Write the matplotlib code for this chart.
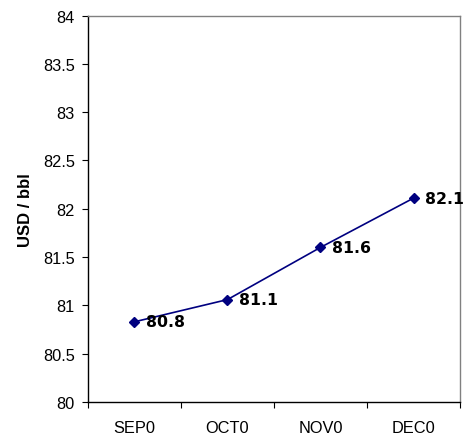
import matplotlib
matplotlib.use('Agg')
import matplotlib.pyplot as plt

months = ['SEP0', 'OCT0', 'NOV0', 'DEC0']
prices = [80.83, 81.06, 81.6, 82.11]
labels = ['80.8', '81.1', '81.6', '82.1']
y_ticks = [80, 80.5, 81, 81.5, 82, 82.5, 83, 83.5, 84]

fig = plt.figure(figsize=(4.72, 4.35), dpi=100)
ax = fig.add_axes([0.1864, 0.0736, 0.7882, 0.8884])

x = list(range(len(months)))
ax.plot(x, prices, color='#000080', lw=1.2, marker='D', ms=5, mfc='#000080', mec='#000080')

for xi, yi, lab in zip(x, prices, labels):
    ax.annotate(lab, (xi, yi), xytext=(8, 0), textcoords='offset points',
                ha='left', va='center', fontsize=11.3, fontweight='bold',
                family='DejaVu Sans', color='black')

ax.set_xlim(-0.5, len(months) - 0.5)
ax.set_ylim(80, 84)
ax.set_yticks(y_ticks)
ax.set_yticklabels([f'{t:g}' for t in y_ticks], family='Liberation Sans', fontsize=11.8)

# category ticks sit between the categories, labels at centres
ax.set_xticks([i - 0.5 for i in range(len(months) + 1)])
ax.set_xticklabels([])
ax.set_xticks(x, minor=True)
ax.set_xticklabels(months, minor=True, family='Liberation Sans', fontsize=11.8)
ax.tick_params(axis='x', which='minor', length=0, pad=13)
ax.tick_params(axis='x', which='major', length=4, direction='out', color='black')
ax.tick_params(axis='y', length=4.5, direction='out', color='black', pad=5)

ax.set_ylabel('USD / bbl', family='Liberation Sans', fontsize=12, fontweight='bold')
ax.yaxis.set_label_coords(-0.148, 0.5)

for side in ['left', 'bottom']:
    ax.spines[side].set_color('black')
    ax.spines[side].set_linewidth(1.0)
for side in ['top', 'right']:
    ax.spines[side].set_color('#808080')
    ax.spines[side].set_linewidth(1.0)

fig.savefig('out.png', dpi=100)
